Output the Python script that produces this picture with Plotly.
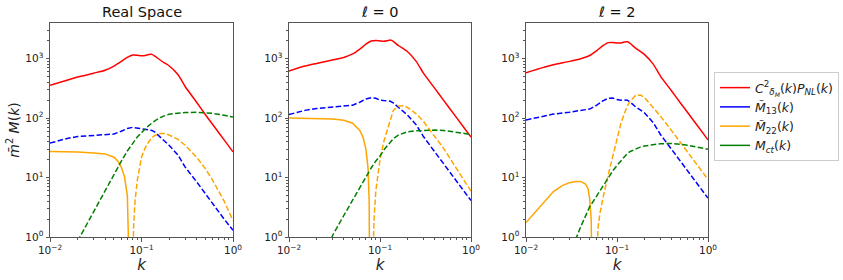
import numpy as np
import plotly.graph_objects as go

# ---------------- data ----------------
K = [0.01, 0.015, 0.02, 0.03, 0.04, 0.05, 0.06, 0.07, 0.08, 0.09, 0.1, 0.11, 0.12,
     0.13, 0.14, 0.16, 0.18, 0.2, 0.25, 0.3, 0.4, 0.5, 0.6, 0.8, 1.0]

# Real space
real_pnl = [355, 430, 490, 570, 640, 750, 900, 1050, 1150, 1140, 1120, 1130, 1170,
            1180, 1100, 950, 840, 760, 540, 340, 185, 114, 78, 43, 27]
real_m13 = [38, 45, 49, 51, 52, 54, 60, 67, 70, 68, 65, 63, 63,
            62, 58, 48, 40, 35, 24, 15, 8.5, 5.3, 3.7, 2.0, 1.3]
real_ct_k = [0.02, 0.03, 0.04, 0.05, 0.06, 0.07, 0.08, 0.09, 0.1, 0.12, 0.14, 0.16,
             0.18, 0.2, 0.25, 0.3, 0.4, 0.5, 0.6, 0.8, 1.0]
real_ct = [0.85, 2.7, 6.2, 11.4, 18.7, 28, 38, 48, 57, 75, 90, 102,
           110, 116, 121, 124, 125, 123, 120, 112, 104]
real_m22_pos_k = [0.01, 0.015, 0.02, 0.03, 0.04, 0.05, 0.055, 0.06, 0.065, 0.07, 0.072, 0.0733]
real_m22_pos = [27.5, 27.3, 27, 26, 25, 22, 19, 15, 10.5, 5, 2, 0.3]
real_m22_neg_k = [0.08, 0.082, 0.085, 0.09, 0.1, 0.11, 0.12, 0.13, 0.14, 0.16, 0.18, 0.2,
                  0.25, 0.3, 0.4, 0.5, 0.6, 0.8, 1.0]
real_m22_neg = [0.3, 1.5, 4, 9, 22, 32, 40, 47, 51, 55, 55, 52,
                44, 35, 22, 14, 9, 4, 1.9]

# ell = 0
l0_pnl = [620, 750, 830, 950, 1050, 1200, 1450, 1750, 1980, 2030, 1990, 1960, 2000,
          2060, 1950, 1650, 1480, 1320, 900, 570, 316, 199, 137, 76, 48]
l0_m13 = [115, 135, 145, 155, 158, 165, 185, 210, 220, 215, 200, 195, 195,
          192, 180, 150, 130, 113, 77, 49, 27, 17, 11.7, 6.5, 4.1]
l0_ct_k = [0.0295, 0.03, 0.04, 0.05, 0.06, 0.07, 0.08, 0.09, 0.1, 0.11, 0.12, 0.13, 0.14,
           0.16, 0.18, 0.2, 0.25, 0.3, 0.4, 0.5, 0.6, 0.8, 1.0]
l0_ct = [0.95, 1.05, 2.3, 4.2, 7, 10.7, 14.5, 19, 23, 29, 34, 40, 45,
         52, 56, 59, 61, 62, 63, 62, 60, 56, 53]
l0_m22_pos_k = [0.01, 0.015, 0.02, 0.03, 0.04, 0.05, 0.06, 0.065, 0.07, 0.074, 0.076, 0.0768]
l0_m22_pos = [100, 99.5, 99, 97, 92, 82, 62, 48, 30, 14, 4, 0.3]
l0_m22_neg_k = [0.0834, 0.086, 0.09, 0.1, 0.11, 0.12, 0.13, 0.14, 0.16, 0.18, 0.2,
                0.25, 0.3, 0.4, 0.5, 0.6, 0.8, 1.0]
l0_m22_neg = [0.3, 2, 6, 20, 40, 62, 95, 135, 160, 162, 152,
              118, 88, 49, 31, 20, 10, 5.9]

# ell = 2
l2_pnl = [580, 700, 790, 900, 1000, 1130, 1370, 1650, 1860, 1870, 1830, 1840, 1900,
          1930, 1800, 1500, 1330, 1180, 810, 510, 283, 178, 123, 68, 43]
l2_m13 = [93, 108, 117, 126, 133, 142, 165, 195, 215, 218, 205, 200, 202,
          200, 185, 155, 138, 123, 84, 53, 29.5, 18.5, 12.8, 7.1, 4.5]
l2_ct_k = [0.035, 0.04, 0.05, 0.06, 0.07, 0.08, 0.09, 0.1, 0.11, 0.12, 0.13, 0.14,
           0.16, 0.18, 0.2, 0.25, 0.3, 0.4, 0.5, 0.6, 0.8, 1.0]
l2_ct = [0.9, 1.5, 3.2, 5, 7.3, 10, 13, 16, 19, 22, 25.5, 27.5,
         30.5, 32.5, 34, 36, 37, 37.5, 36, 35, 32, 30]
l2_m22_pos_k = [0.01, 0.012, 0.015, 0.02, 0.025, 0.03, 0.035, 0.04, 0.045, 0.048, 0.05, 0.052, 0.053]
l2_m22_pos = [1.75, 2.4, 3.5, 5.8, 7.3, 8.2, 8.6, 8.6, 7.8, 6.5, 4.5, 2, 0.3]
l2_m22_neg_k = [0.059, 0.062, 0.065, 0.07, 0.08, 0.09, 0.1, 0.11, 0.12, 0.13, 0.14, 0.16,
                0.18, 0.2, 0.25, 0.3, 0.4, 0.5, 0.6, 0.8, 1.0]
l2_m22_neg = [0.3, 1.5, 2.5, 4.5, 11, 24, 45, 80, 118, 160, 195, 240,
              245, 222, 150, 108, 61, 39, 26, 15, 9.3]

K_MAX_FIT = 0.2
titles = ["Real Space", "<i>ℓ</i> = 0", "<i>ℓ</i> = 2"]
legend_labels = [
    "<i>C</i><sup>2</sup><sub><i>δ<sub>M</sub></i></sub>(<i>k</i>)<i>P</i><sub><i>NL</i></sub>(<i>k</i>)",
    "<i>M̃</i><sub>13</sub>(<i>k</i>)",
    "<i>M̃</i><sub>22</sub>(<i>k</i>)",
    "<i>M</i><sub><i>ct</i></sub>(<i>k</i>)",
]
x_tickvals = [0.01, 0.1, 1.0]
x_ticktext = ["10<sup>−2</sup>", "10<sup>−1</sup>", "10<sup>0</sup>"]
y_tickvals = [1, 10, 100, 1000]
y_ticktext = ["10<sup>0</sup>", "10<sup>1</sup>", "10<sup>2</sup>", "10<sup>3</sup>"]

panels = [
    (real_pnl, real_m13, real_ct_k, real_ct, real_m22_pos_k, real_m22_pos, real_m22_neg_k, real_m22_neg),
    (l0_pnl, l0_m13, l0_ct_k, l0_ct, l0_m22_pos_k, l0_m22_pos, l0_m22_neg_k, l0_m22_neg),
    (l2_pnl, l2_m13, l2_ct_k, l2_ct, l2_m22_pos_k, l2_m22_pos, l2_m22_neg_k, l2_m22_neg),
]

RED, BLUE, ORANGE, GREEN = "#ff0000", "#0000ff", "#ffa500", "#008000"
DASH = "5.5px,2.4px"
FONT = "DejaVu Sans"

# ---------------- figure ----------------
W, H = 843, 280
ML, MR, MT, MB = 50, 135, 23, 43
PW = W - ML - MR
PH = H - MT - MB
px_domains = [(50, 233), (289, 471), (526, 708)]
domains = [((a - ML) / PW, (b - ML) / PW) for a, b in px_domains]


def px_to_paper(px, py):
    return (px - ML) / PW, 1 - (py - MT) / PH


fig = go.Figure()
for i, (pnl, m13, ctk, ct, pk, pv, nk, nv) in enumerate(panels):
    xa = "x" if i == 0 else f"x{i+1}"
    ya = "y" if i == 0 else f"y{i+1}"
    common = dict(xaxis=xa, yaxis=ya, mode="lines", showlegend=False, hoverinfo="skip")
    fig.add_trace(go.Scatter(x=K, y=pnl, line=dict(color=RED, width=1.5, shape="spline", smoothing=0.6), **common))
    fig.add_trace(go.Scatter(x=K, y=m13, line=dict(color=BLUE, width=1.5, dash=DASH), **common))
    fig.add_trace(go.Scatter(x=pk, y=pv, line=dict(color=ORANGE, width=1.5), **common))
    fig.add_trace(go.Scatter(x=nk, y=nv, line=dict(color=ORANGE, width=1.5, dash=DASH), **common))
    fig.add_trace(go.Scatter(x=ctk, y=ct, line=dict(color=GREEN, width=1.5, dash=DASH), **common))
    fig.add_shape(type="line", xref=xa, yref=f"{ya} domain",
                  x0=np.log10(K_MAX_FIT), x1=np.log10(K_MAX_FIT), y0=0, y1=1,
                  line=dict(color="#888888", width=1.5, dash=DASH), layer="above")

# legend dummy traces
for lab, col in zip(legend_labels, [RED, BLUE, ORANGE, GREEN]):
    fig.add_trace(go.Scatter(x=[None], y=[None], mode="lines", name=lab,
                             line=dict(color=col, width=1.5), xaxis="x3", yaxis="y3"))

axis_common = dict(type="log", showline=True, linecolor="#555555", linewidth=1, mirror=True,
                   ticks="outside", ticklen=3.5, tickwidth=1, tickcolor="#555555",
                   showgrid=False, zeroline=False, automargin=False,
                   tickfont=dict(family=FONT, size=10.5, color="#222222"),
                   minor=dict(ticks="outside", ticklen=2, tickwidth=0.8, tickcolor="#555555",
                              dtick="D1", showgrid=False))

lx, ly = px_to_paper(714, 72)
layout = dict(width=W, height=H, margin=dict(l=ML, r=MR, t=MT, b=MB, pad=0, autoexpand=False),
              paper_bgcolor="white", plot_bgcolor="white",
              font=dict(family=FONT, color="#222222"),
              showlegend=True,
              legend=dict(x=lx, y=ly, xref="paper", yref="paper", xanchor="left", yanchor="top",
                          bordercolor="#cccccc", borderwidth=1, bgcolor="white",
                          font=dict(family=FONT, size=12.5, color="#222222"),
                          tracegroupgap=0, itemwidth=30))

for i in range(3):
    xk = "xaxis" if i == 0 else f"xaxis{i+1}"
    yk = "yaxis" if i == 0 else f"yaxis{i+1}"
    layout[xk] = dict(axis_common, domain=list(domains[i]), anchor="y" if i == 0 else f"y{i+1}",
                      range=[-2, 0], tickmode="array", tickvals=x_tickvals, ticktext=x_ticktext,
                      title=dict(text="<i>k</i>", font=dict(family=FONT, size=15), standoff=3))
    layout[yk] = dict(axis_common, domain=[0, 1], anchor="x" if i == 0 else f"x{i+1}",
                      range=[0, 3.6], tickmode="array", tickvals=y_tickvals, ticktext=y_ticktext)

layout["yaxis"]["title"] = dict(text="<i>m̄</i><sup>2</sup> <i>M</i>(<i>k</i>)",
                                font=dict(family=FONT, size=14), standoff=2)

fig.update_layout(**layout)

for i, t in enumerate(titles):
    cx = (px_domains[i][0] + px_domains[i][1]) / 2
    ax_, ay_ = px_to_paper(cx, 12)
    fig.add_annotation(text=t, x=ax_, y=ay_, xref="paper", yref="paper",
                       xanchor="center", yanchor="middle", showarrow=False,
                       font=dict(family=FONT, size=14.5, color="#111111"))

fig.write_html("out.html", config={"displayModeBar": False},
               post_script="document.body.style.margin='0px';")
